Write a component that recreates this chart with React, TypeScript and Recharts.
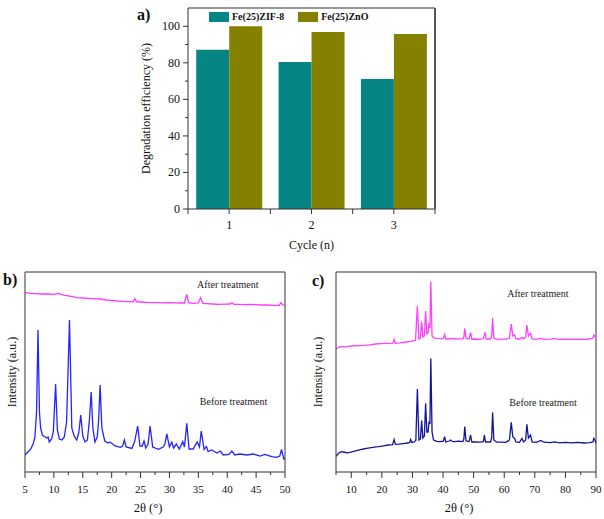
import React from 'react';
import {
  BarChart, Bar, LineChart, Line, XAxis, YAxis, Legend, ReferenceDot, ReferenceLine,
} from 'recharts';

const FONT = '"Liberation Serif", "Times New Roman", Times, serif';
const AXIS = '#333';
const INK = '#111';
const TEAL = '#078585';
const OLIVE = '#848000';

// a) degradation efficiency over three cycles
const cycles = ['1', '2', '3'];
const zif8Eff = [87.2, 80.5, 71.1];
const znoEff = [100, 96.9, 95.8];
const effTicks = [0, 10, 20, 30, 40, 50, 60, 70, 80, 90, 100];

// b) XRD of Fe(25)ZIF-8, [2θ, intensity]
const bBefore: [number, number][] = [
  [5.0, 8.5], [5.5, 10], [6.0, 11.5], [6.4, 14], [6.7, 17], [7.0, 30], [7.25, 71], [7.5, 30],
  [7.7, 22], [8.0, 18.5], [8.5, 17.5], [8.8, 17], [9.0, 17.5], [9.2, 15], [9.6, 16.5], [9.9, 20],
  [10.3, 44], [10.6, 21], [10.95, 16.5], [11.4, 16], [11.8, 17.5], [12.2, 25], [12.7, 76], [13.1, 22],
  [13.5, 18], [13.95, 16], [14.3, 19.5], [14.65, 28.5], [15.0, 18], [15.4, 15], [15.8, 16], [16.15, 26],
  [16.45, 40], [16.75, 22], [17.1, 15], [17.5, 17.5], [17.75, 26], [18.0, 43.5], [18.3, 22], [18.8, 15.5],
  [19.4, 14.5], [19.7, 15], [20.6, 13], [21.5, 12.3], [21.9, 13], [22.2, 16], [22.5, 12.5], [23.5, 11.8],
  [24.0, 15.5], [24.5, 23], [24.9, 13], [25.3, 13], [25.6, 15.5], [25.9, 12], [26.3, 14], [26.65, 23],
  [27.1, 12.5], [28.1, 11.3], [28.9, 12.5], [29.2, 14], [29.55, 19], [30.0, 12.5], [30.4, 15], [30.7, 12],
  [31.2, 14], [31.7, 11.5], [32.3, 15.2], [32.6, 12.5], [33.0, 24.3], [33.4, 11.5], [34.1, 11.5], [34.8, 15],
  [35.2, 12.5], [35.5, 20.5], [36.0, 11.3], [36.4, 12.7], [36.7, 10.2], [37.3, 11], [38.2, 9.5], [38.8, 10.5],
  [39.3, 8.5], [40.3, 8.8], [40.8, 10.5], [41.3, 8.5], [42.2, 9], [43.4, 8.5], [44.5, 9], [45.7, 8],
  [46.5, 8.8], [47.7, 7.7], [48.5, 7.3], [49.1, 8], [49.4, 11.3], [49.8, 6.5], [50, 6.5],
];
const bAfter: [number, number][] = [
  [5, 89.7], [6, 89.3], [7, 89.2], [8, 89], [9, 89], [10, 88.8], [10.8, 89.3], [11.5, 88.6], [12, 88.3],
  [13, 87.8], [14, 87.2], [15, 87], [16, 86.8], [17, 86.6], [18, 86.5], [19, 86], [20, 85.8], [21, 85.5],
  [22, 85.3], [23, 85.2], [23.7, 85.1], [24.0, 86.7], [24.3, 85.1], [25, 85], [26, 84.8], [27, 84.7],
  [28, 84.7], [29, 84.6], [30, 84.7], [31, 84.6], [32, 84.5], [32.6, 84.5], [33.0, 88.8], [33.3, 84.7],
  [34, 84.3], [35, 84.5], [35.4, 87.2], [35.8, 84.3], [36.5, 84.2], [37.5, 84], [38.5, 83.8], [39.5, 83.9],
  [40.5, 84], [40.8, 84.6], [41.2, 83.8], [42, 83.8], [43, 83.7], [44, 83.8], [45, 83.7], [46, 83.5],
  [47, 83.5], [48, 83.3], [49, 83.3], [49.3, 84.7], [49.6, 83.5], [50, 83.2],
];
const bTicks = [5, 7.5, 10, 12.5, 15, 17.5, 20, 22.5, 25, 27.5, 30, 32.5, 35, 37.5, 40, 42.5, 45, 47.5, 50];
const bNotes = [
  { x: 40.1, y: 94, text: 'After treatment' },
  { x: 41.1, y: 35.5, text: 'Before treatment' },
];

// c) XRD of Fe(25)ZnO, [2θ, intensity]
const cBefore: [number, number][] = [
  [5, 7.8], [5.5, 8.8], [6, 9.6], [6.8, 10.2], [7.5, 10], [8.5, 9.6], [9.5, 9.8], [10.5, 10.2], [12, 10.8],
  [13, 11.2], [14, 11.5], [15, 11.8], [16, 12.1], [17, 12.3], [18, 12.6], [19, 12.7], [20, 12.9], [21, 13.2],
  [22, 13.5], [23.5, 13.7], [24, 16.3], [24.4, 13.8], [25.5, 13.9], [27, 14.2], [28.5, 14.5], [29.1, 14.8],
  [29.4, 16.3], [29.8, 14.8], [30.5, 15], [31.1, 15.8], [31.6, 41.5], [32.1, 16], [32.6, 16.5], [33.0, 25.7],
  [33.4, 17], [33.9, 18], [34.3, 34.3], [34.7, 20], [35.1, 20], [35.4, 25.2], [35.7, 24], [36.0, 56.8],
  [36.4, 20], [36.9, 16], [38, 15.3], [39, 15.2], [40.1, 15.4], [40.5, 17.7], [40.9, 15], [42, 15.5],
  [42.5, 16], [43, 15.3], [44, 15.2], [45, 15.4], [46.5, 15.2], [46.8, 16.5], [47.1, 22.7], [47.5, 15.5],
  [48.5, 15.2], [49.0, 18.5], [49.4, 15], [50.5, 15.1], [52, 14.9], [53.2, 15.2], [53.5, 18.5], [53.9, 15],
  [55.5, 15], [55.9, 17], [56.2, 29.8], [56.6, 16], [57.5, 15], [59, 14.9], [60.5, 14.8], [61.7, 16],
  [62.3, 24.8], [62.8, 17.5], [63.4, 16.8], [63.8, 15], [65, 14.8], [65.8, 16.8], [66.3, 15], [67.0, 16],
  [67.4, 23.8], [67.9, 17], [68.6, 18.5], [69.1, 15], [70.5, 14.8], [72, 15.8], [73, 14.9], [75, 14.7],
  [76.5, 15.1], [78, 14.6], [80, 14.8], [82, 14.6], [84, 14.8], [86, 14.5], [88, 14.7], [89.0, 15],
  [89.3, 16.8], [89.7, 15.8], [90, 14.3],
];
const cAfter: [number, number][] = [
  [5, 61.5], [5.5, 62], [6, 62.5], [7, 62.8], [8, 62.6], [9, 62.8], [10, 63], [12, 63.2], [14, 63.3],
  [16, 63.6], [18, 64], [20, 64.2], [22, 64.3], [23.6, 64.4], [24, 66.3], [24.4, 64.4], [26, 64.6], [28, 65],
  [29.4, 65.3], [30.2, 65.6], [31.0, 66], [31.6, 83], [32.1, 66.5], [32.6, 67], [33.0, 75.2], [33.4, 67.5],
  [33.9, 68], [34.3, 80.5], [34.7, 69], [35.1, 69.5], [35.4, 74.5], [35.7, 72], [36.0, 95.2], [36.4, 68],
  [37, 67], [38, 66.8], [39.5, 66.7], [40.1, 66.8], [40.5, 68.8], [40.9, 66.5], [42, 66.5], [43, 66.8],
  [44, 66.5], [45, 66.6], [46.5, 66.6], [46.8, 67.5], [47.1, 71.8], [47.5, 66.8], [48.5, 66.5], [49.0, 69.8],
  [49.4, 66.4], [50.5, 66.5], [52, 66.3], [53.2, 66.6], [53.7, 69.8], [54.1, 66.5], [55.5, 66.5], [55.9, 68],
  [56.2, 77], [56.6, 67], [57.5, 66.4], [59, 66.4], [60.5, 66.3], [61.7, 67], [62.3, 74], [62.8, 68],
  [63.4, 68.5], [63.8, 66.6], [65, 66.5], [65.8, 67.3], [66.4, 66.6], [67.0, 67.5], [67.4, 73.5], [67.9, 68],
  [68.6, 69.3], [69.1, 66.6], [70.5, 66.3], [72, 66.8], [73, 66.3], [75, 66.4], [76.5, 66.7], [78, 66.3],
  [80, 66.4], [82, 66.3], [84, 66.4], [86, 66.3], [88, 66.5], [89.0, 67], [89.3, 68.5], [89.7, 67.8], [90, 66.4],
];
const cTicks = [5, 10, 15, 20, 25, 30, 35, 40, 45, 50, 55, 60, 65, 70, 75, 80, 85, 90];
const cNotes = [
  { x: 71.0, y: 89.5, text: 'After treatment' },
  { x: 72.7, y: 35, text: 'Before treatment' },
];

const barData = cycles.map((c, i) => ({ cycle: c, zif8: zif8Eff[i], zno: znoEff[i] }));
const barSeries = [
  { key: 'zif8', name: 'Fe(25)ZIF-8', color: TEAL },
  { key: 'zno', name: 'Fe(25)ZnO', color: OLIVE },
];
const toPts = (arr: [number, number][]) => arr.map(([x, y]) => ({ x, y }));

// panel a layout
const A_W = 604;
const A_H = 260;
const A_MARGIN = { top: 8, right: 169, bottom: 6, left: 138 };
const A_Y_W = 50;
const A_X_H = 45;
const A_PLOT = {
  left: A_MARGIN.left + A_Y_W,
  top: A_MARGIN.top,
  width: A_W - A_MARGIN.left - A_Y_W - A_MARGIN.right,
  height: A_H - A_MARGIN.top - A_MARGIN.bottom - A_X_H,
};
const halfBand = A_PLOT.width / cycles.length / 2;

// x ticks for the XRD panels: long + label on majors, short on minors
function makeXTick(isMajor: (v: number) => boolean) {
  return (props: any) => {
    const { x, y, payload } = props;
    const major = isMajor(payload.value);
    return (
      <g>
        <line x1={x} x2={x} y1={y} y2={y + (major ? 6 : 3)} stroke={AXIS} />
        {major && (
          <text x={x} y={y + 21} textAnchor="middle" fontSize={11} fontFamily={FONT} fill={INK}>{payload.value}</text>
        )}
      </g>
    );
  };
}

function EffTick({ x, y, payload }: any) {
  const major = payload.value % 20 === 0;
  return (
    <g>
      <line x1={x - (major ? 5 : 3)} x2={x} y1={y} y2={y} stroke={AXIS} />
      {major && (
        <text x={x - 8} y={y + 4} textAnchor="end" fontSize={12} fontFamily={FONT} fill={INK}>{payload.value}</text>
      )}
    </g>
  );
}

function CycleTick({ x, y, payload, index }: any) {
  return (
    <g>
      <line x1={x} x2={x} y1={y} y2={y + 5} stroke={AXIS} />
      <line x1={x - halfBand} x2={x - halfBand} y1={y} y2={y + 5} stroke={AXIS} />
      {index === cycles.length - 1 && (
        <line x1={x + halfBand} x2={x + halfBand} y1={y} y2={y + 5} stroke={AXIS} />
      )}
      <text x={x} y={y + 20} textAnchor="middle" fontSize={12} fontFamily={FONT} fill={INK}>{payload.value}</text>
    </g>
  );
}

function BarLegend() {
  return (
    <div style={{ display: 'flex', alignItems: 'center', fontFamily: FONT, fontSize: 10, fontWeight: 'bold', color: INK, lineHeight: '12px' }}>
      {barSeries.map((s) => (
        <span key={s.key} style={{ display: 'flex', alignItems: 'center', marginRight: 14 }}>
          <span style={{ display: 'inline-block', width: 20, height: 10, background: s.color, marginRight: 3 }} />
          {s.name}
        </span>
      ))}
    </div>
  );
}

const panelTag: React.CSSProperties = {
  position: 'absolute', fontFamily: FONT, fontWeight: 'bold', fontSize: 16, lineHeight: '16px', color: INK,
};

function XrdPanel({ before, after, domain, ticks, isMajor, notes, beforeColor, afterColor, marginLeft, marginRight, labelOffset }: any) {
  return (
    <LineChart
      width={marginLeft + 20 + 260 + marginRight} height={259}
      margin={{ top: 12, right: marginRight, bottom: 2, left: marginLeft }}
      style={{ fontFamily: FONT }}
    >
      <XAxis
        type="number" dataKey="x" domain={domain} ticks={ticks} interval={0} allowDataOverflow
        tick={makeXTick(isMajor)} tickLine={false} tickSize={0} tickMargin={0} height={45}
        stroke={AXIS}
        label={{ value: '2θ (°)', position: 'insideBottom', offset: 5, dx: -7, fontSize: 12.5, fontFamily: FONT, fill: INK }}
      />
      <YAxis
        type="number" domain={[0, 100]} allowDataOverflow tick={false} tickLine={false} width={20} stroke={AXIS}
        label={{ value: 'Intensity (a.u.)', angle: -90, position: 'insideLeft', offset: labelOffset, fontSize: 12, fontFamily: FONT, fill: INK, style: { textAnchor: 'middle' } }}
      />
      {/* box frame */}
      <ReferenceLine y={100} stroke={AXIS} />
      <ReferenceLine x={domain[1]} stroke={AXIS} />
      <Line data={toPts(after)} dataKey="y" type="linear" stroke={afterColor} strokeWidth={1.3} dot={false} isAnimationActive={false} />
      <Line data={toPts(before)} dataKey="y" type="linear" stroke={beforeColor} strokeWidth={1.3} dot={false} isAnimationActive={false} />
      {notes.map((n: any) => (
        <ReferenceDot
          key={n.text} x={n.x} y={n.y} r={1} fill="none" stroke="none"
          label={{ value: n.text, position: 'center', fontSize: 10, fontFamily: FONT, fill: '#222' }}
        />
      ))}
    </LineChart>
  );
}

export default function App() {
  return (
    <div style={{ position: 'absolute', left: 0, top: 0, width: 604, height: 519, background: '#fff', fontFamily: FONT }}>
      <div style={{ position: 'absolute', left: 0, top: 0, width: A_W, height: A_H }}>
        <BarChart
          width={A_W} height={A_H} data={barData} margin={A_MARGIN}
          barGap={0} barCategoryGap="10%"
          style={{ fontFamily: FONT }}
        >
          <XAxis
            dataKey="cycle" type="category" interval={0} tick={CycleTick} tickLine={false} tickSize={0} tickMargin={0}
            height={A_X_H} stroke={AXIS}
            label={{ value: 'Cycle (n)', position: 'insideBottom', offset: 5, fontSize: 12, fontFamily: FONT, fill: INK }}
          />
          <YAxis
            type="number" domain={[0, 110]} ticks={effTicks} interval={0} allowDataOverflow
            tick={EffTick} tickLine={false} tickSize={0} tickMargin={0} width={A_Y_W} stroke={AXIS}
            label={{ value: 'Degradation efficiency (%)', angle: -90, position: 'insideLeft', offset: 8, fontSize: 12, fontFamily: FONT, fill: INK, style: { textAnchor: 'middle' } }}
          />
          <ReferenceLine y={110} stroke={AXIS} />
          <Legend layout="horizontal" verticalAlign="middle" align="center" wrapperStyle={{ left: 209, top: 11, width: 'auto' }} content={BarLegend} />
          {barSeries.map((s) => (
            <Bar key={s.key} dataKey={s.key} name={s.name} fill={s.color} isAnimationActive={false} />
          ))}
        </BarChart>
        {/* right edge of the plot box */}
        <div
          style={{
            position: 'absolute', left: A_PLOT.left + A_PLOT.width - 1, top: A_PLOT.top, width: 2, height: A_PLOT.height,
            background: '#555', zIndex: 5, pointerEvents: 'none',
          }}
        />
      </div>
      <div style={{ ...panelTag, left: 137, top: 7 }}>a)</div>

      <div style={{ position: 'absolute', left: 0, top: 260 }}>
        <XrdPanel
          before={bBefore} after={bAfter} domain={[5, 50]} ticks={bTicks}
          isMajor={(v: number) => v % 5 === 0} notes={bNotes}
          beforeColor="#2424ff" afterColor="#ff38ff" marginLeft={5} marginRight={15} labelOffset={7}
        />
      </div>
      <div style={{ ...panelTag, left: 3, top: 272 }}>b)</div>

      <div style={{ position: 'absolute', left: 300, top: 260 }}>
        <XrdPanel
          before={cBefore} after={cAfter} domain={[5, 90]} ticks={cTicks}
          isMajor={(v: number) => v % 10 === 0} notes={cNotes}
          beforeColor="#14149a" afterColor="#ff40ff" marginLeft={16} marginRight={7} labelOffset={2}
        />
      </div>
      <div style={{ ...panelTag, left: 312, top: 273 }}>c)</div>
    </div>
  );
}
